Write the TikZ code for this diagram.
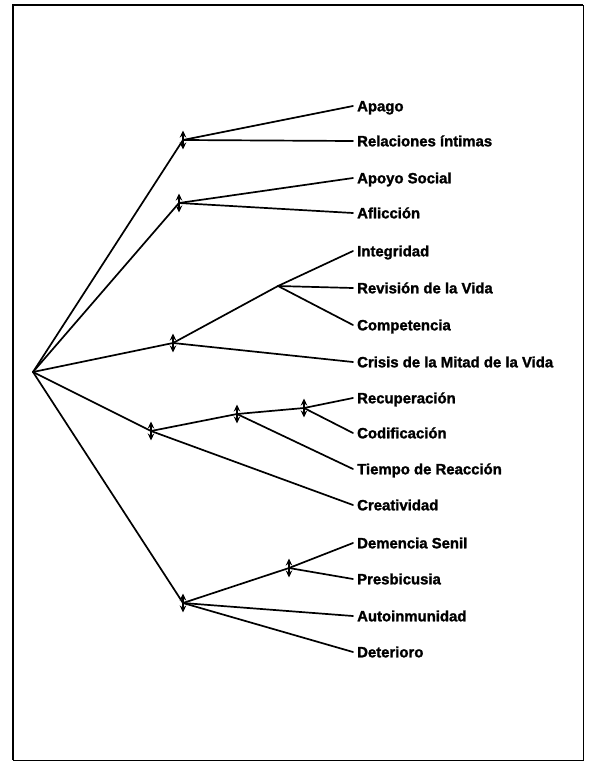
\documentclass[tikz,border=0pt]{standalone}
\usepackage{fontspec}
\setmainfont{Liberation Sans}
\newfontfamily\leaffont{Liberation Sans}[BoldFont={Liberation Sans Bold},BoldFeatures={FakeBold=1.6}]
\usetikzlibrary{arrows.meta}
\begin{document}
\begin{tikzpicture}[x=1pt,y=-1pt,
  branch/.style={line width=1.7pt,line cap=round},
  leaf/.style={anchor=west,inner xsep=4pt,inner ysep=0pt,text height=10.6pt,text depth=0pt,
               font=\leaffont\fontsize{14.9}{16}\selectfont\bfseries},
  vmarker/.style={line width=1.8pt,{Stealth[length=7pt,width=6.5pt]}-{Stealth[length=7pt,width=6.5pt]}},
  frame/.style={line width=2pt}]
\useasboundingbox (0,0) rectangle (600,764);
% outer frame
\draw[frame] (13,760) -- (13,5) -- (583,5);
\draw[line width=1pt] (583,5) -- (583,760) -- (13,760);

% junctions
\coordinate (R)  at (33,372);
\coordinate (A)  at (183,140);
\coordinate (B)  at (179,203);
\coordinate (C)  at (173,343);
\coordinate (C1) at (278,286);
\coordinate (D)  at (151,431);
\coordinate (D1) at (237,414);
\coordinate (D2) at (304,408);
\coordinate (E)  at (183,603);
\coordinate (E1) at (289,568);

% labels
\node[leaf] (l1)  at (353,106) {Apago};
\node[leaf] (l2)  at (353,141) {Relaciones íntimas};
\node[leaf] (l3)  at (353,178) {Apoyo Social};
\node[leaf] (l4)  at (353,213) {Aflicción};
\node[leaf] (l5)  at (353,251) {Integridad};
\node[leaf] (l6)  at (353,288) {Revisión de la Vida};
\node[leaf] (l7)  at (353,325) {Competencia};
\node[leaf] (l8)  at (353,362) {Crisis de la Mitad de la Vida};
\node[leaf] (l9)  at (353,398) {Recuperación};
\node[leaf] (l10) at (353,433) {Codificación};
\node[leaf] (l11) at (353,469) {Tiempo de Reacción};
\node[leaf] (l12) at (353,505) {Creatividad};
\node[leaf] (l13) at (353,543) {Demencia Senil};
\node[leaf] (l14) at (353,579) {Presbicusia};
\node[leaf] (l15) at (353,616) {Autoinmunidad};
\node[leaf] (l16) at (353,652) {Deterioro};

% branches from the root
\draw[branch] (R) -- (A);
\draw[branch] (R) -- (B);
\draw[branch] (R) -- (C);
\draw[branch] (R) -- (D);
\draw[branch] (R) -- (E);

\draw[branch] (A) -- (l1.west);
\draw[branch] (A) -- (l2.west);
\draw[branch] (B) -- (l3.west);
\draw[branch] (B) -- (l4.west);

\draw[branch] (C) -- (C1);
\draw[branch] (C1) -- (l5.west);
\draw[branch] (C1) -- (l6.west);
\draw[branch] (C1) -- (l7.west);
\draw[branch] (C) -- (l8.west);

\draw[branch] (D) -- (D1);
\draw[branch] (D1) -- (D2);
\draw[branch] (D2) -- (l9.west);
\draw[branch] (D2) -- (l10.west);
\draw[branch] (D1) -- (l11.west);
\draw[branch] (D) -- (l12.west);

\draw[branch] (E) -- (E1);
\draw[branch] (E1) -- (l13.west);
\draw[branch] (E1) -- (l14.west);
\draw[branch] (E) -- (l15.west);
\draw[branch] (E) -- (l16.west);

% double-headed markers at the junctions
\foreach \j in {A,B,C,D,D1,D2,E,E1}
  \draw[vmarker] ([yshift=-9.5pt]\j) -- ([yshift=9.5pt]\j);
\end{tikzpicture}
\end{document}
